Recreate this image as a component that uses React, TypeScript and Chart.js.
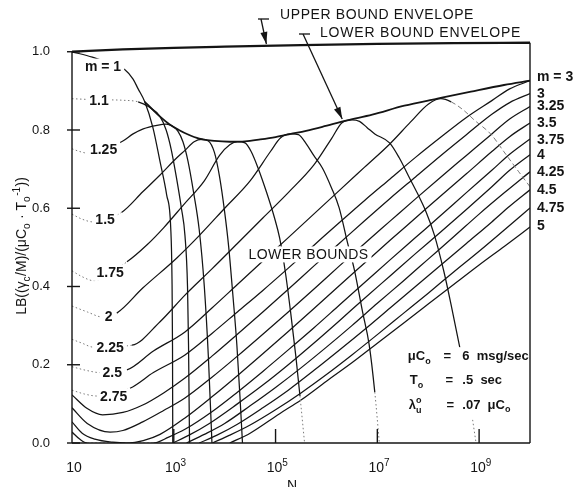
import React, { useEffect, useRef } from 'react';
import { Chart, registerables } from 'chart.js';

Chart.register(...registerables);

// ---------- data: every curve is a list of [log10(N), LB] pairs ----------
const M_1 = [[1, 1.0], [1.4, 0.986], [1.7, 0.972], [2.04, 0.954], [2.2, 0.93], [2.3, 0.905], [2.43, 0.872], [2.59, 0.806], [2.73, 0.719], [2.86, 0.634], [2.94, 0.55], [2.965, 0.42], [2.975, 0.25], [2.98, 0]];
const M_1_1 = [[1, 0.88], [1.35, 0.878], [1.75, 0.877], [2.0, 0.876], [2.3, 0.872], [2.5, 0.86], [2.73, 0.834], [2.85, 0.8], [2.95, 0.75], [3.05, 0.68], [3.15, 0.6], [3.22, 0.53], [3.27, 0.4], [3.29, 0.25], [3.3, 0.12], [3.31, 0]];
const M_1_25 = [[1, 0.752], [1.15, 0.745], [1.35, 0.74], [2.0, 0.772], [2.2, 0.79], [2.4, 0.803], [2.67, 0.812], [2.85, 0.815], [2.97, 0.81], [3.08, 0.797], [3.18, 0.77], [3.28, 0.72], [3.39, 0.64], [3.5, 0.545], [3.6, 0.4], [3.68, 0.22], [3.75, 0]];
const M_1_5 = [[1, 0.585], [1.2, 0.572], [1.42, 0.565], [1.98, 0.59], [2.39, 0.642], [2.73, 0.685], [3.06, 0.729], [3.22, 0.748], [3.4, 0.77], [3.55, 0.776], [3.68, 0.772], [3.8, 0.742], [3.9, 0.68], [4.0, 0.59], [4.08, 0.5], [4.16, 0.38], [4.24, 0.25], [4.3, 0.12], [4.35, 0]];
const M_1_75 = [[1, 0.44], [1.2, 0.425], [1.42, 0.415], [2.08, 0.463], [2.47, 0.506], [2.8, 0.55], [3.2, 0.61], [3.6, 0.67], [3.9, 0.735], [4.1, 0.762], [4.25, 0.77], [4.4, 0.767], [4.52, 0.745], [4.65, 0.705], [4.82, 0.642], [4.98, 0.575], [5.08, 0.524], [5.2, 0.43], [5.3, 0.33], [5.4, 0.22], [5.48, 0.12], [5.57, 0]];
const M_2 = [[1, 0.35], [1.3, 0.335], [1.6, 0.322], [1.88, 0.332], [2.39, 0.396], [3.06, 0.473], [3.5, 0.53], [4.0, 0.6], [4.5, 0.67], [4.9, 0.745], [5.1, 0.78], [5.3, 0.79], [5.45, 0.788], [5.6, 0.765], [5.75, 0.735], [5.92, 0.703], [6.1, 0.652], [6.25, 0.601], [6.41, 0.514], [6.55, 0.442], [6.71, 0.335], [6.84, 0.251], [6.95, 0.13], [7.04, 0]];
const M_2_25 = [[1, 0.265], [1.2, 0.255], [1.42, 0.245], [2.18, 0.25], [2.73, 0.31], [3.22, 0.378], [3.75, 0.445], [4.25, 0.51], [4.75, 0.575], [5.25, 0.64], [5.75, 0.71], [6.1, 0.778], [6.3, 0.818], [6.5, 0.826], [6.65, 0.822], [6.8, 0.806], [6.95, 0.79], [7.24, 0.767], [7.43, 0.729], [7.63, 0.678], [7.78, 0.64], [7.96, 0.59], [8.12, 0.532], [8.31, 0.437], [8.45, 0.353], [8.61, 0.251], [8.8, 0.12], [8.94, 0]];
const M_2_5 = [[1, 0.195], [1.3, 0.185], [1.55, 0.18], [2.08, 0.187], [2.6, 0.235], [3.22, 0.284], [3.75, 0.345], [4.25, 0.405], [4.75, 0.465], [5.25, 0.525], [5.75, 0.585], [6.25, 0.645], [6.75, 0.705], [7.25, 0.765], [7.65, 0.82], [8.0, 0.866], [8.25, 0.88], [8.45, 0.872], [8.7, 0.85], [8.9, 0.826], [9.24, 0.788], [9.49, 0.744], [9.78, 0.693], [10, 0.655]];
const M_2_75 = [[1, 0.135], [1.25, 0.125], [1.5, 0.12], [2.14, 0.14], [2.6, 0.18], [3.22, 0.225], [3.75, 0.28], [4.25, 0.335], [4.75, 0.39], [5.25, 0.447], [5.75, 0.505], [6.25, 0.563], [6.75, 0.62], [7.25, 0.675], [7.75, 0.73], [8.25, 0.782], [8.75, 0.832], [9.25, 0.875], [9.6, 0.905], [10, 0.926]];
const M_3 = [[1, 0.123], [1.3, 0.088], [1.6, 0.072], [2.0, 0.078], [2.39, 0.097], [2.8, 0.128], [3.22, 0.166], [3.75, 0.222], [4.25, 0.278], [4.75, 0.335], [5.25, 0.393], [5.75, 0.452], [6.25, 0.51], [6.75, 0.568], [7.25, 0.625], [7.75, 0.68], [8.25, 0.735], [8.75, 0.788], [9.25, 0.84], [9.6, 0.87], [10, 0.893]];
const M_3_25 = [[1, 0.09], [1.3, 0.05], [1.75, 0.028], [2.0, 0.032], [2.39, 0.054], [2.8, 0.083], [3.22, 0.115], [3.75, 0.168], [4.25, 0.222], [4.75, 0.278], [5.25, 0.335], [5.75, 0.393], [6.25, 0.452], [6.75, 0.51], [7.25, 0.567], [7.75, 0.624], [8.25, 0.68], [8.75, 0.735], [9.25, 0.79], [9.6, 0.828], [10, 0.86]];
const M_3_5 = [[1, 0.054], [1.2, 0.025], [1.45, 0.01], [1.8, 0.002], [2.1, 0], [2.4, 0.006], [2.73, 0.022], [3.22, 0.064], [3.75, 0.118], [4.25, 0.172], [4.75, 0.228], [5.25, 0.285], [5.75, 0.343], [6.25, 0.402], [6.75, 0.46], [7.25, 0.518], [7.75, 0.575], [8.25, 0.632], [8.75, 0.688], [9.25, 0.745], [9.6, 0.783], [10, 0.818]];
const M_3_75 = [[1, 0.028], [1.15, 0.01], [1.3, 0], [2.6, 0], [2.9, 0.015], [3.22, 0.035], [3.75, 0.08], [4.25, 0.13], [4.75, 0.183], [5.25, 0.238], [5.75, 0.294], [6.25, 0.352], [6.75, 0.41], [7.25, 0.468], [7.75, 0.525], [8.25, 0.582], [8.75, 0.64], [9.25, 0.697], [9.6, 0.738], [10, 0.777]];
const M_4 = [[2.98, 0], [3.3, 0.02], [3.7, 0.05], [4.25, 0.1], [4.75, 0.148], [5.25, 0.2], [5.75, 0.255], [6.25, 0.312], [6.75, 0.37], [7.25, 0.427], [7.75, 0.484], [8.25, 0.54], [8.75, 0.597], [9.25, 0.655], [9.6, 0.697], [10, 0.737]];
const M_4_25 = [[3.25, 0], [3.6, 0.022], [4.0, 0.05], [4.5, 0.095], [5.0, 0.142], [5.5, 0.192], [6.0, 0.245], [6.5, 0.3], [7.0, 0.357], [7.5, 0.413], [8.0, 0.47], [8.5, 0.527], [9.0, 0.585], [9.5, 0.64], [10, 0.693]];
const M_4_5 = [[3.5, 0], [3.85, 0.02], [4.25, 0.048], [4.75, 0.09], [5.25, 0.135], [5.75, 0.185], [6.25, 0.237], [6.75, 0.29], [7.25, 0.345], [7.75, 0.4], [8.25, 0.455], [8.75, 0.51], [9.25, 0.565], [9.6, 0.605], [10, 0.647]];
const M_4_75 = [[3.76, 0], [4.1, 0.02], [4.5, 0.046], [5.0, 0.085], [5.5, 0.128], [6.0, 0.175], [6.5, 0.225], [7.0, 0.277], [7.5, 0.33], [8.0, 0.383], [8.5, 0.437], [9.0, 0.49], [9.5, 0.545], [10, 0.601]];
const M_5 = [[4.1, 0], [4.5, 0.025], [5.08, 0.075], [5.5, 0.11], [6.0, 0.158], [6.5, 0.205], [7.0, 0.255], [7.5, 0.305], [8.0, 0.355], [8.5, 0.405], [9.0, 0.455], [9.5, 0.503], [10, 0.552]];

const LOWER_ENVELOPE = [[2.43, 0.872], [2.6, 0.85], [2.73, 0.834], [2.92, 0.814], [3.1, 0.8], [3.27, 0.789], [3.5, 0.778], [3.8, 0.772], [4.1, 0.77], [4.4, 0.771], [4.7, 0.776], [5.0, 0.782], [5.3, 0.79], [5.6, 0.798], [5.92, 0.808], [6.39, 0.824], [6.9, 0.839], [7.53, 0.862], [8.18, 0.88], [8.84, 0.898], [9.49, 0.915], [10, 0.926]];
const UPPER_ENVELOPE = [[1, 1.0], [2, 1.006], [3, 1.01], [4, 1.013], [5.5, 1.017], [7, 1.02], [8.5, 1.022], [10, 1.023]];

const M_VALUES = [1, 1.1, 1.25, 1.5, 1.75, 2, 2.25, 2.5, 2.75, 3, 3.25, 3.5, 3.75, 4, 4.25, 4.5, 4.75, 5];
const CURVES = [M_1, M_1_1, M_1_25, M_1_5, M_1_75, M_2, M_2_25, M_2_5, M_2_75, M_3, M_3_25, M_3_5, M_3_75, M_4, M_4_25, M_4_5, M_4_75, M_5];

// line style: dotted lead-in (up to log N), dotted tail (below LB), faint dashed tail (from log N)
const DOT_UNTIL = [0, 2.35, 1.98, 1.98, 2.08, 1.88, 2.18, 2.08, 2.14, 0, 0, 0, 0, 0, 0, 0, 0, 0];
const DOT_BELOW = [0, 0, 0, 0, 0.15, 0.25, 0.25, 0, 0, 0, 0, 0, 0, 0, 0, 0, 0, 0];
const DASH_FROM = [99, 99, 99, 99, 99, 99, 99, 8.3, 99, 99, 99, 99, 99, 99, 99, 99, 99, 99];

const X_TICK_EXP = [1, 3, 5, 7, 9];
const Y_TICKS = [0, 0.2, 0.4, 0.6, 0.8, 1.0];

const LEFT_LABELS = ['m = 1', '1.1', '1.25', '1.5', '1.75', '2', '2.25', '2.5', '2.75'];
const LEFT_LABEL_AT = [[1.61, 0.962], [1.53, 0.875], [1.62, 0.75], [1.65, 0.57], [1.75, 0.435], [1.72, 0.322], [1.75, 0.243], [1.79, 0.179], [1.82, 0.118]];
const RIGHT_LABELS = ['m = 3', '3', '3.25', '3.5', '3.75', '4', '4.25', '4.5', '4.75', '5'];
const RIGHT_LABEL_AT = [0.936, 0.893, 0.862, 0.818, 0.775, 0.737, 0.693, 0.647, 0.601, 0.555];

const INK = '#141414';
const FONT = '"Liberation Sans", Arial, Helvetica, sans-serif';

type Run = { t: string; s?: 'sub' | 'sup' | 'subsup'; t2?: string };

function drawRich(ctx: any, runs: Run[], x: number, y: number, size: number, weight: string, measureOnly = false) {
  let cx = x;
  for (const r of runs) {
    if (!r.s) {
      ctx.font = `${weight} ${size}px ${FONT}`;
      if (!measureOnly) ctx.fillText(r.t, cx, y);
      cx += ctx.measureText(r.t).width;
    } else {
      const fs = Math.round(size * 0.72);
      ctx.font = `${weight} ${fs}px ${FONT}`;
      let w = ctx.measureText(r.t).width;
      if (r.s === 'sub') {
        if (!measureOnly) ctx.fillText(r.t, cx, y + size * 0.3);
      } else if (r.s === 'sup') {
        if (!measureOnly) ctx.fillText(r.t, cx, y - size * 0.42);
      } else {
        if (!measureOnly) {
          ctx.fillText(r.t, cx, y + size * 0.32);
          ctx.fillText(r.t2 || '', cx, y - size * 0.42);
        }
        w = Math.max(w, ctx.measureText(r.t2 || '').width);
      }
      cx += w + 0.5;
    }
  }
  return cx - x;
}

function seg(ctx: any, x0: number, y0: number, x1: number, y1: number) {
  ctx.beginPath();
  ctx.moveTo(x0, y0);
  ctx.lineTo(x1, y1);
  ctx.stroke();
}

function arrow(ctx: any, x0: number, y0: number, x1: number, y1: number) {
  seg(ctx, x0, y0, x1, y1);
  const a = Math.atan2(y1 - y0, x1 - x0);
  const L = 12, W = 3.5;
  ctx.beginPath();
  ctx.moveTo(x1, y1);
  ctx.lineTo(x1 - L * Math.cos(a) + W * Math.sin(a), y1 - L * Math.sin(a) - W * Math.cos(a));
  ctx.lineTo(x1 - L * Math.cos(a) - W * Math.sin(a), y1 - L * Math.sin(a) + W * Math.cos(a));
  ctx.closePath();
  ctx.fill();
}

function boxedText(ctx: any, text: string, cx: number, cy: number, font: string, align = 'center', spacing = '0px') {
  ctx.font = font;
  ctx.letterSpacing = spacing;
  const w = ctx.measureText(text).width;
  const left = align === 'center' ? cx - w / 2 : cx;
  ctx.fillStyle = '#ffffff';
  ctx.fillRect(left - 3, cy - 8, w + 6, 16);
  ctx.fillStyle = INK;
  ctx.textAlign = 'left';
  ctx.textBaseline = 'middle';
  ctx.fillText(text, left, cy + 0.5);
  ctx.letterSpacing = '0px';
}

const decoPlugin = {
  id: 'deco',
  afterDatasetsDraw(chart: any) {
    const { ctx } = chart;
    const xs = chart.scales.x, ys = chart.scales.y;
    const X = (e: number) => xs.getPixelForValue(Math.pow(10, e));
    const Y = (v: number) => ys.getPixelForValue(v);
    ctx.save();
    ctx.strokeStyle = INK;
    ctx.fillStyle = INK;
    ctx.lineWidth = 1.4;

    // frame
    seg(ctx, X(1), Y(1.0), X(1), Y(0));
    seg(ctx, X(1), Y(0), X(10), Y(0));
    seg(ctx, X(10), Y(UPPER_ENVELOPE[UPPER_ENVELOPE.length - 1][1]), X(10), Y(0));
    // inward ticks
    for (const v of Y_TICKS) seg(ctx, X(1) - 5, Y(v), X(1) + 8, Y(v));
    for (const e of X_TICK_EXP) if (e > 1) seg(ctx, X(e), Y(0), X(e), Y(0) - 14);

    // x tick labels with superscripts
    ctx.textBaseline = 'alphabetic';
    ctx.textAlign = 'left';
    for (const e of X_TICK_EXP) {
      const runs: Run[] = e === 1 ? [{ t: '10' }] : [{ t: '10' }, { t: String(e), s: 'sup' }];
      const w = drawRich(ctx, runs, 0, 0, 14, 'normal', true);
      drawRich(ctx, runs, X(e) + 2 - w / 2, Y(0) + 29, 14, 'normal');
    }

    // axis titles
    ctx.font = `normal 14px ${FONT}`;
    ctx.textBaseline = 'top';
    ctx.fillText('N', 287, 479);
    const yTitle: Run[] = [{ t: 'LB((γ' }, { t: 'c', s: 'sub' }, { t: '/M)/(μC' }, { t: 'o', s: 'sub' }, { t: ' · T' }, { t: 'o', s: 'sub' }, { t: '-1', s: 'sup' }, { t: '))' }];
    ctx.save();
    ctx.translate(26, 246);
    ctx.rotate(-Math.PI / 2);
    ctx.textBaseline = 'alphabetic';
    const tw = drawRich(ctx, yTitle, 0, 0, 14, 'normal', true);
    drawRich(ctx, yTitle, -tw / 2, 0, 14, 'normal');
    ctx.restore();

    // curve labels (white boxes break the curves like the original)
    const lf = `bold 14px ${FONT}`;
    LEFT_LABELS.forEach((t, i) => boxedText(ctx, t, X(LEFT_LABEL_AT[i][0]), Y(LEFT_LABEL_AT[i][1]), lf));
    RIGHT_LABELS.forEach((t, i) => boxedText(ctx, t, X(10) + 7, Y(RIGHT_LABEL_AT[i]), lf, 'left'));

    // LOWER BOUNDS
    boxedText(ctx, 'LOWER BOUNDS', X(4.47), Y(0.482), `normal 14px ${FONT}`, 'left', '0.4px');

    // parameter block
    ctx.fillStyle = '#ffffff';
    ctx.fillRect(X(7.55), Y(0.245), X(9.95) - X(7.55), Y(0.06) - Y(0.245));
    ctx.fillStyle = INK;
    ctx.textBaseline = 'alphabetic';
    ctx.textAlign = 'left';
    const pf = 13, pw = 'bold';
    const colA = X(7.6), colB = X(8.3), colC = X(8.67);
    drawRich(ctx, [{ t: 'μC' }, { t: 'o', s: 'sub' }], colA, Y(0.212), pf, pw);
    drawRich(ctx, [{ t: '=' }], colB, Y(0.212), pf, pw);
    drawRich(ctx, [{ t: '6  msg/sec' }], colC, Y(0.212), pf, pw);
    drawRich(ctx, [{ t: 'T' }, { t: 'o', s: 'sub' }], colA + 2, Y(0.15), pf, pw);
    drawRich(ctx, [{ t: '=' }], colB + 2, Y(0.15), pf, pw);
    drawRich(ctx, [{ t: '.5  sec' }], colC, Y(0.15), pf, pw);
    drawRich(ctx, [{ t: 'λ' }, { t: 'u', s: 'subsup', t2: 'o' }], colA + 1, Y(0.088), pf, pw);
    drawRich(ctx, [{ t: '=' }], colB + 3, Y(0.088), pf, pw);
    drawRich(ctx, [{ t: '.07  μC' }, { t: 'o', s: 'sub' }], colC, Y(0.088), pf, pw);

    // top annotations with leaders
    ctx.font = `normal 14px ${FONT}`;
    ctx.textBaseline = 'middle';
    ctx.letterSpacing = '0.6px';
    ctx.fillText('UPPER BOUND ENVELOPE', 280, 15);
    ctx.letterSpacing = '0.8px';
    ctx.fillText('LOWER BOUND ENVELOPE', 320, 33);
    ctx.letterSpacing = '0px';
    ctx.lineWidth = 1.3;
    seg(ctx, 258, 19, 269, 19);
    arrow(ctx, 261, 19, X(4.82), Y(1.017) - 1);
    seg(ctx, 299, 34, 310, 34);
    arrow(ctx, 303, 34, X(6.31), Y(0.828));

    ctx.restore();
  },
};

export default function App() {
  const ref = useRef<HTMLCanvasElement>(null);
  useEffect(() => {
    const canvas = ref.current as HTMLCanvasElement;
    const toXY = (pts: number[][]) => pts.map(([e, v]) => ({ x: Math.pow(10, e), y: v }));
    const datasets: any[] = CURVES.map((pts, i) => {
      const styled = (ctx: any) => {
        const e0 = Math.log10(ctx.p0.parsed.x), e1 = Math.log10(ctx.p1.parsed.x);
        const ymax = Math.max(ctx.p0.parsed.y, ctx.p1.parsed.y);
        if (e1 <= DOT_UNTIL[i] + 1e-9) return 'dot';
        if (ymax <= DOT_BELOW[i] + 1e-9) return 'dot';
        if (e0 >= DASH_FROM[i] - 1e-9) return 'dash';
        return null;
      };
      return {
        label: `m = ${M_VALUES[i]}`,
        data: toXY(pts),
        showLine: true,
        borderColor: INK,
        borderWidth: 1.25,
        pointRadius: 0,
        fill: false,
        cubicInterpolationMode: 'monotone',
        segment: {
          borderDash: (c: any) => { const s = styled(c); return s === 'dot' ? [1.5, 2.5] : s === 'dash' ? [5, 3] : undefined; },
          borderColor: (c: any) => { const s = styled(c); return s ? '#7a7a7a' : undefined; },
          borderWidth: (c: any) => { const s = styled(c); return s ? 1 : undefined; },
        },
      };
    });
    datasets.push({ label: 'Lower bound envelope', data: toXY(LOWER_ENVELOPE), showLine: true, borderColor: INK, borderWidth: 1.8, pointRadius: 0, fill: false, cubicInterpolationMode: 'monotone' });
    datasets.push({ label: 'Upper bound envelope', data: toXY(UPPER_ENVELOPE), showLine: true, borderColor: INK, borderWidth: 2.4, pointRadius: 0, fill: false, cubicInterpolationMode: 'monotone' });

    const chart = new Chart(canvas, {
      type: 'scatter',
      data: { datasets },
      options: {
        responsive: true,
        maintainAspectRatio: false,
        animation: false,
        layout: { padding: { left: 0, top: 40, right: 47, bottom: 0 } },
        plugins: { legend: { display: false }, tooltip: { enabled: false } },
        scales: {
          x: {
            type: 'logarithmic',
            min: 10,
            max: 1e10,
            grid: { display: false },
            border: { display: false },
            ticks: { display: false },
            afterBuildTicks: (s: any) => { s.ticks = X_TICK_EXP.map((e) => ({ value: Math.pow(10, e) })); },
            afterFit: (s: any) => { s.height = 44; },
          },
          y: {
            type: 'linear',
            min: 0,
            max: 1.03,
            grid: { display: false },
            border: { display: false },
            ticks: { padding: 14, color: INK, font: { size: 13, family: FONT }, callback: (v: any) => Number(v).toFixed(1) },
            afterBuildTicks: (s: any) => { s.ticks = Y_TICKS.map((v) => ({ value: v })); },
            afterFit: (s: any) => { s.width = 72; },
          },
        },
      } as any,
      plugins: [decoPlugin as any],
    });
    return () => chart.destroy();
  }, []);
  return (
    <div style={{ position: 'absolute', left: 0, top: 0, width: 577, height: 487, background: '#fff' }}>
      <canvas ref={ref} />
    </div>
  );
}
